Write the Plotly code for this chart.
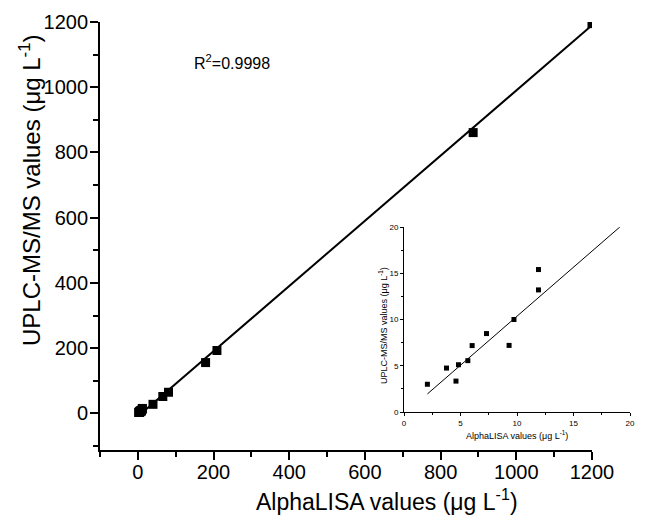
import plotly.graph_objects as go

# ---- data ----
inset_x = [2.07, 3.76, 4.6, 4.82, 5.65, 6.03, 7.3, 9.3, 9.73, 11.9, 11.9]
inset_y = [3.0, 4.75, 3.34, 5.11, 5.55, 7.18, 8.48, 7.2, 10.0, 15.4, 13.2]
high_x = [40, 66, 81, 179, 209, 886, 1200]
high_y = [28, 52, 65, 156, 193, 861, 1195]
main_x = inset_x + high_x
main_y = inset_y + high_y
fit_main_x = [2, 1200]
fit_main_y = [-7, 1190]
fit_inset_x = [2.07, 19.1]
fit_inset_y = [1.95, 20.0]
main_ticks = [0, 200, 400, 600, 800, 1000, 1200]
inset_ticks = [0, 5, 10, 15, 20]
r2_text = "R<sup>2</sup>=0.9998"
x_title = "AlphaLISA values (μg L<sup>-1</sup>)"
y_title = "UPLC-MS/MS values (μg L<sup>-1</sup>)"

FONT = "Liberation Sans, Arial, sans-serif"
L, R, T, B = 100, 10, 22, 68
W, H = 648, 518
PW, PH = W - L - R, H - T - B

def px2paper_x(px):
    return (px - L) / PW

def px2paper_y(py):
    return (H - B - py) / PH

fig = go.Figure()
fig.add_trace(go.Scatter(x=fit_main_x, y=fit_main_y, mode="lines",
                         line=dict(color="black", width=2), xaxis="x", yaxis="y",
                         hoverinfo="skip"))
fig.add_trace(go.Scatter(x=main_x, y=main_y, mode="markers",
                         marker=dict(symbol="square", size=9, color="black"),
                         xaxis="x", yaxis="y"))
fig.add_trace(go.Scatter(x=fit_inset_x, y=fit_inset_y, mode="lines",
                         line=dict(color="black", width=1), xaxis="x2", yaxis="y2",
                         hoverinfo="skip"))
fig.add_trace(go.Scatter(x=inset_x, y=inset_y, mode="markers",
                         marker=dict(symbol="square", size=5, color="black"),
                         xaxis="x2", yaxis="y2"))

axis_common = dict(showgrid=False, zeroline=False, showline=True, linecolor="black",
                   ticks="outside", tickcolor="black", mirror=False, automargin=False)

fig.update_layout(
    width=W, height=H, autosize=False,
    margin=dict(l=L, r=R, t=T, b=B),
    paper_bgcolor="white", plot_bgcolor="white",
    showlegend=False,
    font=dict(family=FONT, color="black"),
    xaxis=dict(**axis_common, domain=[0, px2paper_x(592)], range=[-100, 1200],
               tickvals=main_ticks, linewidth=1.8, tickwidth=1.8, ticklen=8,
               tickfont=dict(size=20, family=FONT), ticklabelstandoff=-5,
               minor=dict(ticks="outside", dtick=100, tick0=0, ticklen=5,
                          tickwidth=1.8, tickcolor="black"),
               anchor="y"),
    yaxis=dict(**axis_common, domain=[0, 1], range=[-112, 1200],
               tickvals=main_ticks, linewidth=1.8, tickwidth=1.8, ticklen=8,
               tickfont=dict(size=20, family=FONT), ticklabelstandoff=-2,
               minor=dict(ticks="outside", dtick=100, tick0=0, ticklen=5,
                          tickwidth=1.8, tickcolor="black"),
               anchor="x"),
    xaxis2=dict(**axis_common, domain=[px2paper_x(404), px2paper_x(630)],
                range=[0, 20], tickvals=inset_ticks, linewidth=1, tickwidth=1,
                ticklen=3, tickfont=dict(size=8, family=FONT),
                minor=dict(ticks="outside", dtick=2.5, tick0=0, ticklen=2,
                           tickwidth=1, tickcolor="black"),
                anchor="y2"),
    yaxis2=dict(**axis_common, domain=[px2paper_y(412), px2paper_y(227)],
                range=[0, 20], tickvals=inset_ticks, linewidth=1, tickwidth=1,
                ticklen=3, tickfont=dict(size=8, family=FONT),
                minor=dict(ticks="outside", dtick=2.5, tick0=0, ticklen=2,
                           tickwidth=1, tickcolor="black"),
                anchor="x2"),
    annotations=[
        dict(text=r2_text, x=250, y=1077, xref="x", yref="y", showarrow=False,
             font=dict(size=16, family=FONT), xanchor="center", yanchor="middle"),
        dict(text=x_title, x=px2paper_x(387), y=px2paper_y(500), xref="paper",
             yref="paper", showarrow=False, font=dict(size=23, family=FONT),
             xanchor="center", yanchor="middle"),
        dict(text=y_title, x=px2paper_x(30), y=px2paper_y(190), xref="paper",
             yref="paper", showarrow=False, font=dict(size=24, family=FONT),
             textangle=-90, xanchor="center", yanchor="middle"),
        dict(text=x_title, x=px2paper_x(517), y=px2paper_y(435), xref="paper",
             yref="paper", showarrow=False, font=dict(size=9, family=FONT),
             xanchor="center", yanchor="middle"),
        dict(text=y_title, x=px2paper_x(383), y=px2paper_y(326), xref="paper",
             yref="paper", showarrow=False, font=dict(size=9, family=FONT),
             textangle=-90, xanchor="center", yanchor="middle"),
    ],
)

post = ("document.body.style.margin='0';"
        "var gd=document.getElementById('{plot_id}');"
        "Plotly.relayout(gd,{width:648,height:518});")
fig.write_html("out.html", post_script=post,
               config={"displayModeBar": False, "responsive": False})
